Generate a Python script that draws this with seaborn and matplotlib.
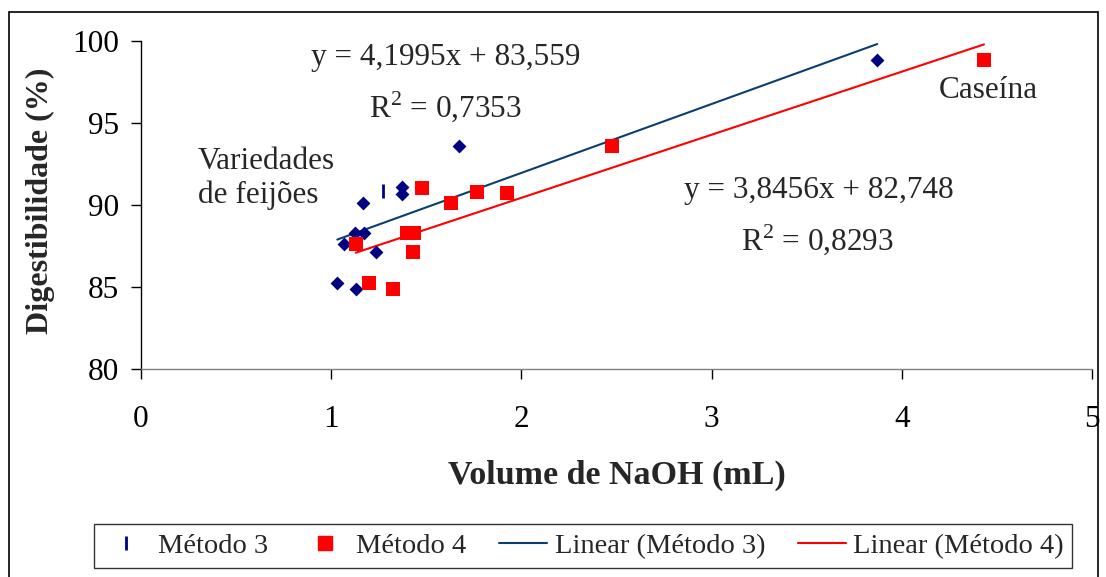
import numpy as np
import pandas as pd
import matplotlib
matplotlib.use('Agg')
import matplotlib.pyplot as plt
from matplotlib.lines import Line2D
from matplotlib.patches import Rectangle
import seaborn as sns

# Data
# ---------------------------

metodo3_x = [1.674, 1.371, 1.371, 1.169, 1.125, 1.174, 1.069, 1.234, 1.032, 1.129, 3.871]
metodo3_y = [93.62, 91.10, 90.67, 90.10, 88.30, 88.27, 87.62, 87.15, 85.22, 84.85, 98.85]
metodo3_tick_x = [1.274]
metodo3_tick_y = [90.85]

metodo4_x = [1.476, 1.630, 1.768, 1.926, 1.397, 1.437, 1.129, 1.432, 1.200, 1.327, 2.475, 4.432]
metodo4_y = [91.06, 90.10, 90.81, 90.71, 88.27, 88.27, 87.62, 87.15, 85.22, 84.86, 93.62, 98.85]

fit3 = (4.1995, 83.559)
fit4 = (3.8456, 82.748)

x_ticks = [0, 1, 2, 3, 4, 5]
y_ticks = [80, 85, 90, 95, 100]

navy = '#000080'
line_blue = '#0b3e6f'
red = '#ff0000'

# Figure
# ------

sns.set_style('white')
plt.rcParams['font.family'] = ['Liberation Serif', 'DejaVu Serif']
plt.rcParams['mathtext.fontset'] = 'custom'
plt.rcParams['mathtext.rm'] = 'Liberation Serif'

fig = plt.figure(figsize=(11.06, 5.77), dpi=100)
ax = fig.add_axes([141 / 1106, 1 - 369 / 577, (1092 - 141) / 1106, (369 - 41) / 577])

df3 = pd.DataFrame({'x': metodo3_x, 'y': metodo3_y})
df4 = pd.DataFrame({'x': metodo4_x, 'y': metodo4_y})

# trend lines from the displayed equations over each series range
lx3 = np.array([min(metodo3_x), max(metodo3_x)])
lx4 = np.array([min(metodo4_x), max(metodo4_x)])
sns.lineplot(x=lx3, y=fit3[0] * lx3 + fit3[1], color=line_blue, lw=1.5, ax=ax, zorder=2)
sns.lineplot(x=lx4, y=fit4[0] * lx4 + fit4[1], color=red, lw=1.5, ax=ax, zorder=2)

sns.scatterplot(data=df3, x='x', y='y', marker='D', s=50, color=navy, edgecolor=navy, linewidth=0, ax=ax, zorder=3)
sns.scatterplot(x=metodo3_tick_x, y=metodo3_tick_y, marker='|', s=90, color=navy, linewidth=2, ax=ax, zorder=3)
sns.scatterplot(data=df4, x='x', y='y', marker='s', s=100, color=red, edgecolor=red, linewidth=0, ax=ax, zorder=4)

ax.set_xlim(0, 5)
ax.set_ylim(80, 100)
ax.set_xticks(x_ticks)
ax.set_yticks(y_ticks)
ax.tick_params(axis='both', labelsize=22.5, direction='out', length=7, width=1, colors='black',
               bottom=True, left=True)
ax.tick_params(axis='x', pad=19)
ax.tick_params(axis='y', pad=9)

for s in ['top', 'right']:
    ax.spines[s].set_visible(False)
ax.spines['left'].set_color('black')
ax.spines['bottom'].set_color('#808080')
ax.spines['left'].set_linewidth(1)
ax.spines['bottom'].set_linewidth(1)

ax.set_xlabel('Volume de NaOH (mL)', fontsize=24.5, fontweight='bold')
ax.set_ylabel('Digestibilidade (%)', fontsize=23, fontweight='bold')
ax.xaxis.set_label_coords((617 - 141) / (1092 - 141), -(475 - 369) / (369 - 41))
ax.yaxis.set_label_coords(-(141 - 40) / (1092 - 141), (369 - 201) / (369 - 41))
ax.xaxis.label.set_va('center')
ax.yaxis.label.set_va('center')
ax.yaxis.label.set_ha('center')

# annotations
ax.text(1.60, 99.0, 'y = 4,1995x + 83,559', fontsize=22.5, ha='center', va='center')
ax.text(1.60, 96.0, r'R$^2$ = 0,7353', fontsize=22.5, ha='center', va='center')
ax.text(0.30, 91.6, 'Variedades\nde feijões', fontsize=22.5, ha='left', va='center', linespacing=1.2)
ax.text(3.565, 90.9, 'y = 3,8456x + 82,748', fontsize=22.5, ha='center', va='center')
ax.text(3.555, 87.9, r'R$^2$ = 0,8293', fontsize=22.5, ha='center', va='center')
ax.text(4.453, 97.0, 'Caseína', fontsize=22.5, ha='center', va='center')

# legend
handles = [
    Line2D([], [], marker='|', color=navy, linestyle='none', markersize=10, markeredgewidth=2),
    Line2D([], [], marker='s', color=red, linestyle='none', markersize=10),
    Line2D([], [], color=line_blue, lw=1.5),
    Line2D([], [], color=red, lw=1.5),
]
labels = ['Método 3', 'Método 4', 'Linear (Método 3)', 'Linear (Método 4)']
leg = fig.legend(handles, labels, loc='center', bbox_to_anchor=(583 / 1106, 1 - 546 / 577), ncol=4,
                 fontsize=20.5, frameon=True, fancybox=False, edgecolor='black', handlelength=1.7,
                 columnspacing=1.15, handletextpad=0.25, borderpad=0.3, borderaxespad=0)
leg.get_frame().set_linewidth(1)

# outer chart border
fig.patches.append(Rectangle((9 / 1106, -0.02), (1098 - 9) / 1106, 1 - 12 / 577 + 0.02,
                             transform=fig.transFigure, fill=False, edgecolor='black', lw=1.2))

fig.savefig('out.png', dpi=100)
